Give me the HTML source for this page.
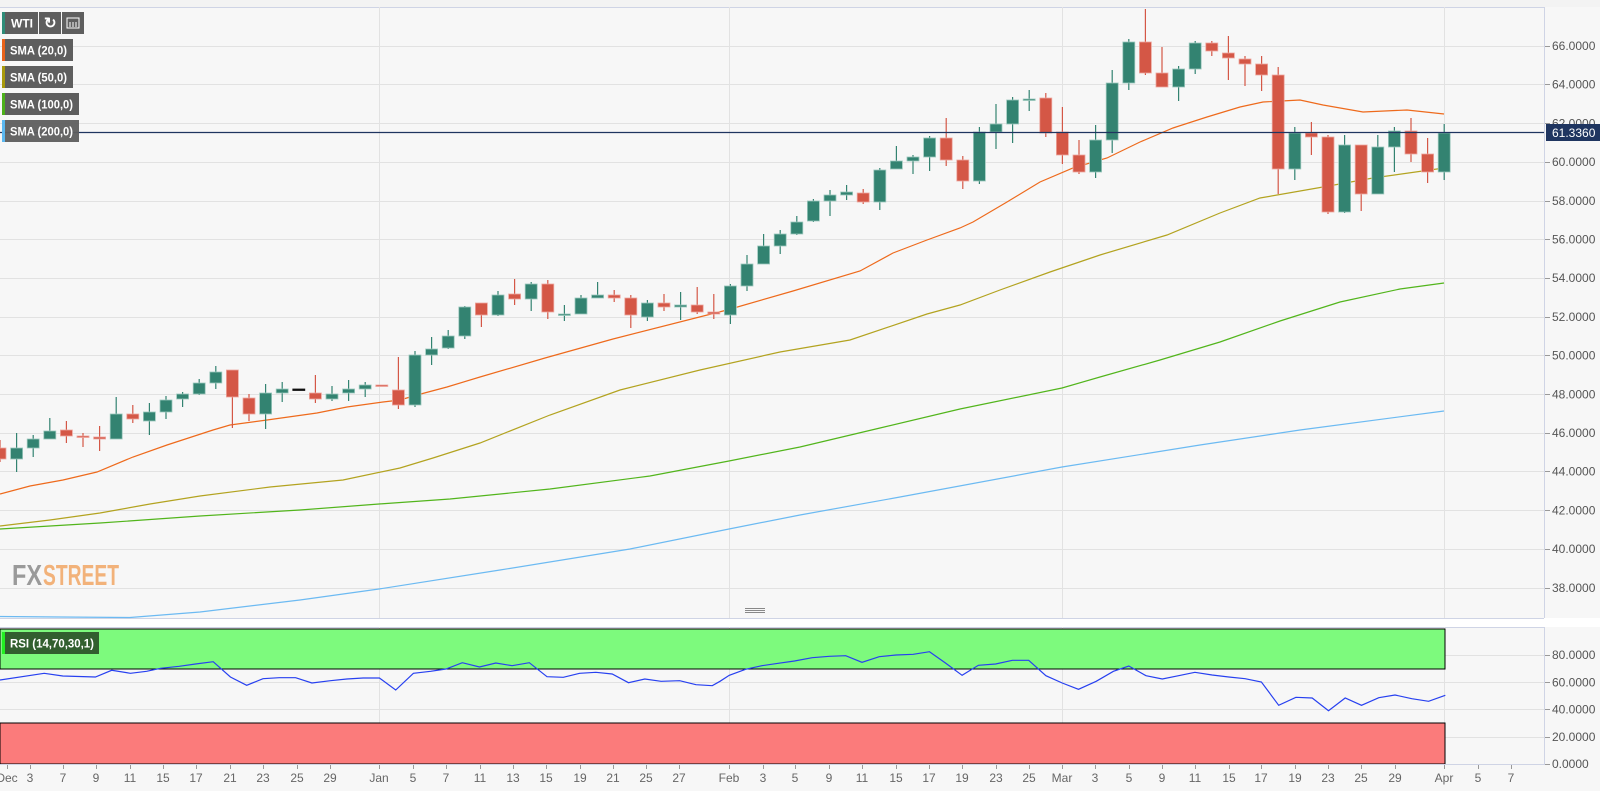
<!DOCTYPE html>
<html><head><meta charset="utf-8"><style>
html,body{margin:0;padding:0;background:#f7f7f7;width:1600px;height:791px;overflow:hidden;font-family:"Liberation Sans",sans-serif}
svg text{font-family:"Liberation Sans",sans-serif}
</style></head><body>
<svg id="s" width="1600" height="791" xmlns="http://www.w3.org/2000/svg">
<rect x="0" y="0" width="1600" height="791" fill="#f7f7f7"/>
<rect x="0" y="0" width="1600" height="7" fill="#f3f3f3"/>
<line x1="0" y1="7.5" x2="1544" y2="7.5" stroke="#cfd4e5"/>
<rect x="0" y="618" width="1600" height="9" fill="#ffffff"/>
<line x1="0" y1="618.5" x2="1544" y2="618.5" stroke="#cfd4e5"/>
<line x1="0" y1="627.5" x2="1544" y2="627.5" stroke="#cfd4e5"/>
<g stroke="#888" stroke-width="1"><line x1="745" y1="608.5" x2="765" y2="608.5"/><line x1="745" y1="610.5" x2="765" y2="610.5"/><line x1="745" y1="612.5" x2="765" y2="612.5"/></g>
<g id="grid" stroke="#e2e2e2" stroke-width="1"></g>
<g id="rsiz"></g>
<g id="lines" fill="none"></g>
<g id="candles"></g>
<line x1="0" y1="132.5" x2="1544" y2="132.5" stroke="#1f3560" stroke-width="1.3"/>
<line x1="1544.5" y1="7" x2="1544.5" y2="618" stroke="#cfd4e5"/>
<line x1="1544.5" y1="627" x2="1544.5" y2="765" stroke="#cfd4e5"/>
<line x1="0" y1="764.5" x2="1544" y2="764.5" stroke="#cfd4e5"/>
<g id="ticks" stroke="#999"></g>
<g font-size="12" fill="#555">
<text x="1552" y="50">66.0000</text><text x="1552" y="88.7">64.0000</text><text x="1552" y="166">60.0000</text>
<text x="1552" y="204.8">58.0000</text><text x="1552" y="243.5">56.0000</text><text x="1552" y="282.2">54.0000</text>
<text x="1552" y="320.9">52.0000</text><text x="1552" y="359.6">50.0000</text><text x="1552" y="398.3">48.0000</text>
<text x="1552" y="437">46.0000</text><text x="1552" y="475.7">44.0000</text><text x="1552" y="514.4">42.0000</text>
<text x="1552" y="553.1">40.0000</text><text x="1552" y="591.8">38.0000</text>
<text x="1552" y="127.4">62.0000</text>
<text x="1552" y="659">80.0000</text><text x="1552" y="686.5">60.0000</text><text x="1552" y="713.5">40.0000</text>
<text x="1552" y="741">20.0000</text><text x="1552" y="768">0.0000</text>
</g>
<rect x="1546" y="124" width="54" height="17" fill="#1f3560"/>
<text x="1552" y="137" font-size="12" fill="#fff">61.3360</text>
<g font-size="12" fill="#666" text-anchor="middle">
<text x="7" y="782">Dec</text><text x="30" y="782">3</text><text x="63" y="782">7</text><text x="96" y="782">9</text>
<text x="130" y="782">11</text><text x="163" y="782">15</text><text x="196" y="782">17</text><text x="230" y="782">21</text>
<text x="263" y="782">23</text><text x="297" y="782">25</text><text x="330" y="782">29</text><text x="379" y="782">Jan</text>
<text x="413" y="782">5</text><text x="446" y="782">7</text><text x="480" y="782">11</text><text x="513" y="782">13</text>
<text x="546" y="782">15</text><text x="580" y="782">19</text><text x="613" y="782">21</text><text x="646" y="782">25</text>
<text x="679" y="782">27</text><text x="729" y="782">Feb</text><text x="763" y="782">3</text><text x="795" y="782">5</text>
<text x="829" y="782">9</text><text x="862" y="782">11</text><text x="896" y="782">15</text><text x="929" y="782">17</text>
<text x="962" y="782">19</text><text x="996" y="782">23</text><text x="1029" y="782">25</text><text x="1062" y="782">Mar</text>
<text x="1095" y="782">3</text><text x="1129" y="782">5</text><text x="1162" y="782">9</text><text x="1195" y="782">11</text>
<text x="1229" y="782">15</text><text x="1261" y="782">17</text><text x="1295" y="782">19</text><text x="1328" y="782">23</text>
<text x="1361" y="782">25</text><text x="1395" y="782">29</text><text x="1444" y="782">Apr</text><text x="1478" y="782">5</text>
<text x="1511" y="782">7</text>
</g>
<text x="12" y="585" font-size="29" font-weight="bold" fill="#9a9a9a" textLength="30" lengthAdjust="spacingAndGlyphs">FX</text>
<text x="43" y="585" font-size="29" font-weight="bold" fill="#f2b27a" textLength="76" lengthAdjust="spacingAndGlyphs">STREET</text>
<g font-size="12" font-weight="bold" fill="#fff">
<rect x="2" y="12" width="36" height="22" fill="#5e5e5e"/><rect x="2" y="12" width="3" height="22" fill="#2e8c78"/>
<text x="11" y="27.5">WTI</text>
<rect x="39" y="12" width="22" height="22" fill="#5e5e5e"/><text x="44" y="28" font-size="15">↻</text>
<rect x="62" y="12" width="22" height="22" fill="#5e5e5e"/>
<rect x="67" y="18" width="12" height="10" fill="none" stroke="#fff"/><line x1="70" y1="22" x2="70" y2="27" stroke="#fff"/><line x1="73" y1="22" x2="73" y2="27" stroke="#fff"/><line x1="76" y1="22" x2="76" y2="27" stroke="#fff"/>
<rect x="2" y="39" width="71" height="22" fill="#5e5e5e"/><rect x="2" y="39" width="3" height="22" fill="#e8621a"/><text x="10" y="54.5" textLength="57" lengthAdjust="spacingAndGlyphs">SMA (20,0)</text>
<rect x="2" y="66" width="71" height="22" fill="#5e5e5e"/><rect x="2" y="66" width="3" height="22" fill="#a89a0c"/><text x="10" y="81.5" textLength="57" lengthAdjust="spacingAndGlyphs">SMA (50,0)</text>
<rect x="2" y="93" width="77" height="22" fill="#5e5e5e"/><rect x="2" y="93" width="3" height="22" fill="#4cb01a"/><text x="10" y="108.5" textLength="63" lengthAdjust="spacingAndGlyphs">SMA (100,0)</text>
<rect x="2" y="120" width="77" height="22" fill="#5e5e5e" opacity="0.95"/><rect x="2" y="120" width="3" height="22" fill="#5bb8f0"/><text x="10" y="135.5" textLength="63" lengthAdjust="spacingAndGlyphs">SMA (200,0)</text>
<rect x="2" y="632" width="97" height="22" fill="#325f2f"/><rect x="2" y="632" width="3" height="22" fill="#22ee22"/><text x="10" y="647.5" textLength="84" lengthAdjust="spacingAndGlyphs">RSI (14,70,30,1)</text>
</g>
</svg>
<script>
const NS="http://www.w3.org/2000/svg";
function el(p,t,a){const e=document.createElementNS(NS,t);for(const k in a)e.setAttribute(k,a[k]);document.getElementById(p).appendChild(e);return e;}
for(let k=0;k<15;k++){const y=Math.round(45.7+k*38.7)+0.5;el('grid','line',{x1:0,y1:y,x2:1544,y2:y});el('ticks','line',{x1:1545,y1:y,x2:1550,y2:y});}
[655,682,709,737].forEach(y=>{el('grid','line',{x1:0,y1:y+.5,x2:1544,y2:y+.5});});
[655,682,709,737,764].forEach(y=>el('ticks','line',{x1:1545,y1:y+.5,x2:1550,y2:y+.5}));
[379,729,1062,1444].forEach(x=>{el('grid','line',{x1:x+.5,y1:7,x2:x+.5,y2:618});el('grid','line',{x1:x+.5,y1:627,x2:x+.5,y2:764});});
[7,30,63,96,130,163,196,230,263,297,330,379,413,446,480,513,546,580,613,646,679,729,763,795,829,862,896,929,962,996,1029,1062,1095,1129,1162,1195,1229,1261,1295,1328,1361,1395,1444,1478,1511].forEach(x=>el('ticks','line',{x1:x+.5,y1:765,x2:x+.5,y2:769}));
el('rsiz','rect',{x:0,y:629,width:1445,height:40,fill:'#7dfa7d',stroke:'#000','stroke-width':1});
el('rsiz','rect',{x:0,y:723,width:1445,height:41,fill:'#fb7b7b',stroke:'#000','stroke-width':1});
function pl(pts,c,w){el('lines','polyline',{points:pts.map(p=>p.join(',')).join(' '),stroke:c,'stroke-width':w||1.2,fill:'none'});}
pl([[0,616.5],[60,617],[130,617.5],[200,612],[300,600],[379,589],[500,570],[630,549],[729,529],[800,515],[900,497],[1062,467],[1200,445],[1300,430],[1444,411]],'#6cbaf2');
pl([[0,529],[100,523],[200,516],[300,510],[379,504],[450,499],[550,489],[650,476],[729,461],[800,447],[880,428],[960,409],[1062,388],[1100,377],[1160,360],[1220,342],[1280,321],[1340,302],[1400,289],[1444,283]],'#52b51c');
pl([[0,526],[50,520],[100,513],[150,504],[200,496],[270,487],[343,480],[400,468],[433,458],[480,443],[550,415],[620,390],[700,370],[780,352],[850,340],[927,314],[960,305],[1000,290],[1050,272],[1100,255],[1167,235],[1220,213],[1260,198],[1323,187],[1373,178],[1444,168]],'#b3a320');
pl([[0,494],[30,486],[63,480],[97,472],[133,457],[167,445],[213,430],[230,425],[267,420],[317,413],[347,407],[383,402],[400,400],[417,395],[447,387],[480,377],[545,358],[613,339],[727,310],[793,291],[860,271],[893,253],[927,240],[960,228],[973,222],[1007,202],[1040,182],[1073,168],[1107,158],[1140,142],[1173,128],[1207,117],[1240,107],[1263,102],[1300,100],[1323,105],[1363,112],[1407,110],[1444,114]],'#ee6a1c');
const z7=[[0,210],[95,190],[135,198],[205,201],[240,181],[280,190],[315,184],[345,175],[385,169],[420,162],[458,155],[495,201],[530,226],[565,206],[600,203],[635,203],[670,219],[710,212],[745,207],[780,204],[815,204],[850,240],[888,190],[925,184],[958,177],[993,158],[1030,171],[1065,159],[1100,167],[1137,158],[1175,200],[1210,202],[1245,190],[1280,187],[1315,192],[1350,218],[1385,207],[1420,214],[1460,212],[1495,224],[1530,227]];
const z8=[[0,214],[20,196],[55,178],[90,167],[125,160],[160,153],[198,143],[235,139],[270,137],[305,157],[342,140],[378,135],[415,133],[450,125],[485,160],[520,196],[555,166],[592,162],[628,151],[663,151],[700,197],[735,219],[770,238],[808,214],[845,184],[878,168],[915,197],[950,207],[985,197],[1020,187],[1057,195],[1093,201],[1128,206],[1163,216],[1200,286],[1237,262],[1272,264],[1307,302],[1343,264],[1378,286],[1415,263],[1450,255],[1486,266],[1522,274],[1558,256]];
const r=z7.map(p=>[p[0]/2.148,610+p[1]/3]).concat(z8.map(p=>[720+p[0]/2.148,610+p[1]/3]));
el('lines','polyline',{points:r.map(p=>p[0].toFixed(1)+','+p[1].toFixed(1)).join(' '),stroke:'#2740f0','stroke-width':1.2,fill:'none'});
const C=`r 448 459 440 462|g 448 459 433 472|g 439 448 435 457|g 431 439 418 439|r 430 436 421 443|r 436 437 433 447|r 437 439 426 451|g 414 439 397 439|r 414 419 405 423|g 412 421 403 435|g 400 412 396 419|g 394 399 392 407|g 383 394 379 395|g 372 383 366 389|r 370 397 370 428|r 398 414 394 421|g 393 414 384 429|g 389 393 382 402|k 389 389 389 389|r 393 399 375 403|g 394 399 386 401|g 389 393 380 401|g 385 389 382 397|r 385 386 385 386|r 390 405 357 409|g 355 405 351 407|g 349 355 337 365|g 336 348 330 349|g 307 336 306 339|r 303 315 303 327|g 295 315 291 316|r 294 299 279 305|g 284 299 282 311|r 284 312 280 319|g 314 314.5 305 321|g 298 314 295 314|g 295 298 282 298|r 295 298 290 302|r 298 315 295 328|g 303 317 300 321|r 303 307 294 311|g 305 307 292 320|r 305 312 287 314|r 312 314 294 319|g 286 315 284 324|g 264 286 255 291|g 246 264 234 264|g 234 246 230 254|g 222 234 216 235|g 201 221 199 222|g 195 201 190 216|g 192 195 185 200|r 193 202 189 204|g 170 202 168 210|g 161 169 146 169|g 157 161 155 174|g 138 157 136 171|r 138 160 118 166|r 160 181 156 189|g 132 181 127 184|g 124 132 104 149|g 100 124 97 143|g 99 100 90 111|r 98 133 93 137|r 132 155 107 164|r 155 172 140 174|g 140 172 125 178|g 83 140 70 153|g 42 83 39 90|r 42 73 9 75|r 73 87 47 87|g 69 87 66 101|g 43 69 41 74|r 43 51 41 56|r 53 58 36 80|r 59 64 56 86|r 64 75 56 91|r 75 169 67 194|g 133 169 127 180|r 133 137 122 155|r 137 212 135 214|g 145 212 135 213|r 145 194 145 211|g 147 194 135 194|g 131 147 127 172|r 131 154 118 162|r 154 172 138 183|g 133 172 124 180`.split('|');
C.forEach((s,i)=>{const a=s.split(' ');const c=a[0]=='g'?'#338371':a[0]=='r'?'#d45746':'#111';const x=i*16.6;const t=+a[1],b=+a[2],h=+a[3],l=+a[4];
el('candles','line',{x1:x,y1:h,x2:x,y2:l,stroke:c,'stroke-width':1.2});
el('candles','rect',{x:x-6,y:t,width:12,height:Math.max(b-t,1.5),fill:c,stroke:a[0]=='k'?c:(a[0]=='g'?'#9cc8bd':'#eda79e'),'stroke-width':0.8});});
</script>
</body></html>
